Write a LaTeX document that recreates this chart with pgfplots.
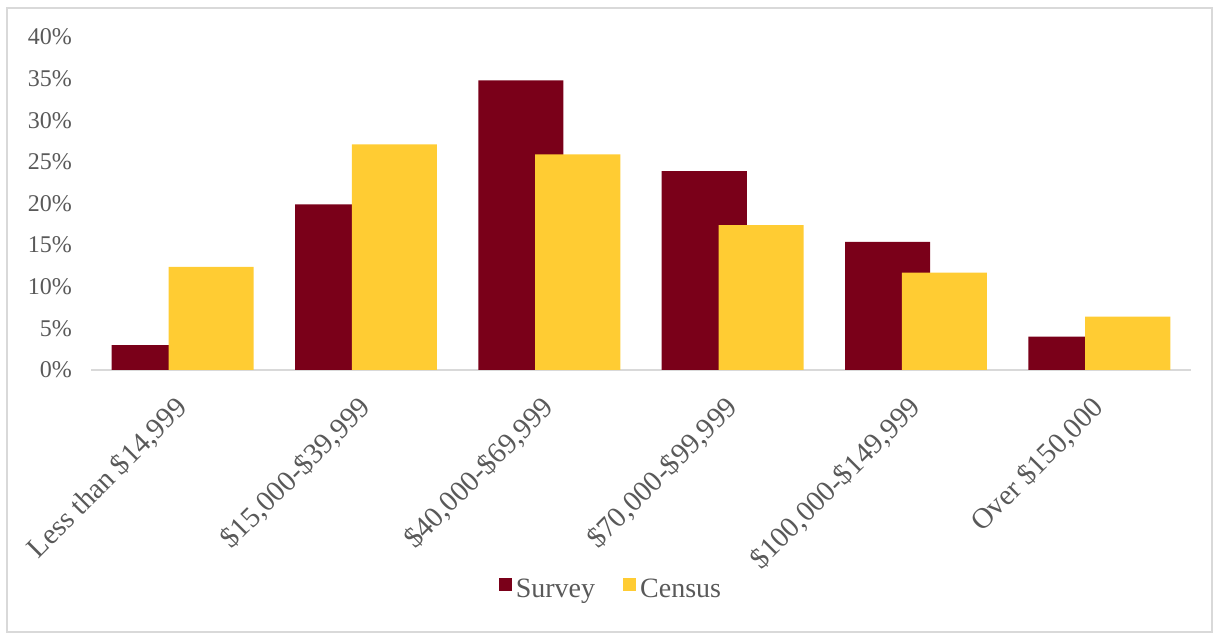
\documentclass[border=0pt]{standalone}
\usepackage{fontspec}
\setmainfont{Liberation Serif}
\usepackage{pgfplots}
\pgfplotsset{compat=1.18}
\definecolor{survey}{HTML}{7A0019}
\definecolor{census}{HTML}{FFCC33}
\definecolor{txt}{HTML}{595959}
\definecolor{axl}{HTML}{D9D9D9}
\begin{document}
\begin{tikzpicture}[x=1pt,y=1pt]
\path (-45.5,-135) rectangle (564,185);
\draw[axl, line width=1pt] (-42,-131) rectangle (560.5,181);
\begin{axis}[
  at={(0,0)}, anchor=south west,
  scale only axis, width=550pt, height=166.5pt,
  xmin=-0.5, xmax=5.5, ymin=0, ymax=40,
  axis lines*=left,
  y axis line style={draw=none},
  x axis line style={axl, line width=1pt},
  major tick length=0pt,
  ytick={0,5,...,40},
  yticklabel={\pgfmathprintnumber{\tick}\%},
  /pgf/number format/assume math mode=true,
  yticklabel style={font=\fontsize{12}{12}\selectfont, text=txt, anchor=east, xshift=-6pt},
  xtick={0,1,2,3,4,5},
  xticklabels={Less than \$14{,}999, \$15{,}000-\$39{,}999, \$40{,}000-\$69{,}999, \$70{,}000-\$99{,}999, \$100{,}000-\$149{,}999, Over \$150{,}000},
  xticklabel style={xshift=-4.5pt, yshift=-12pt, rotate=45, anchor=north east, font=\fontsize{14.5}{14.5}\selectfont, text=txt, inner sep=0pt},
  legend style={at={(0.4736,-0.661)}, anchor=center, draw=none, fill=none, legend columns=2, font=\fontsize{14}{14}\selectfont, text=txt, /tikz/every even column/.append style={column sep=12pt}},
  legend image code/.code={\fill[#1] (0pt,-0.5pt) rectangle (6.5pt,6pt);},
]
\addplot[ybar, fill=survey, draw=none, bar width=0.464, bar shift=-0.155] coordinates {(0,3.0) (1,19.9) (2,34.8) (3,23.9) (4,15.4) (5,4.0)};
\addlegendentry{Survey}
\addplot[ybar, fill=census, draw=none, bar width=0.464, bar shift=0.155] coordinates {(0,12.4) (1,27.1) (2,25.9) (3,17.4) (4,11.7) (5,6.4)};
\addlegendentry{Census}
\end{axis}
\end{tikzpicture}
\end{document}
